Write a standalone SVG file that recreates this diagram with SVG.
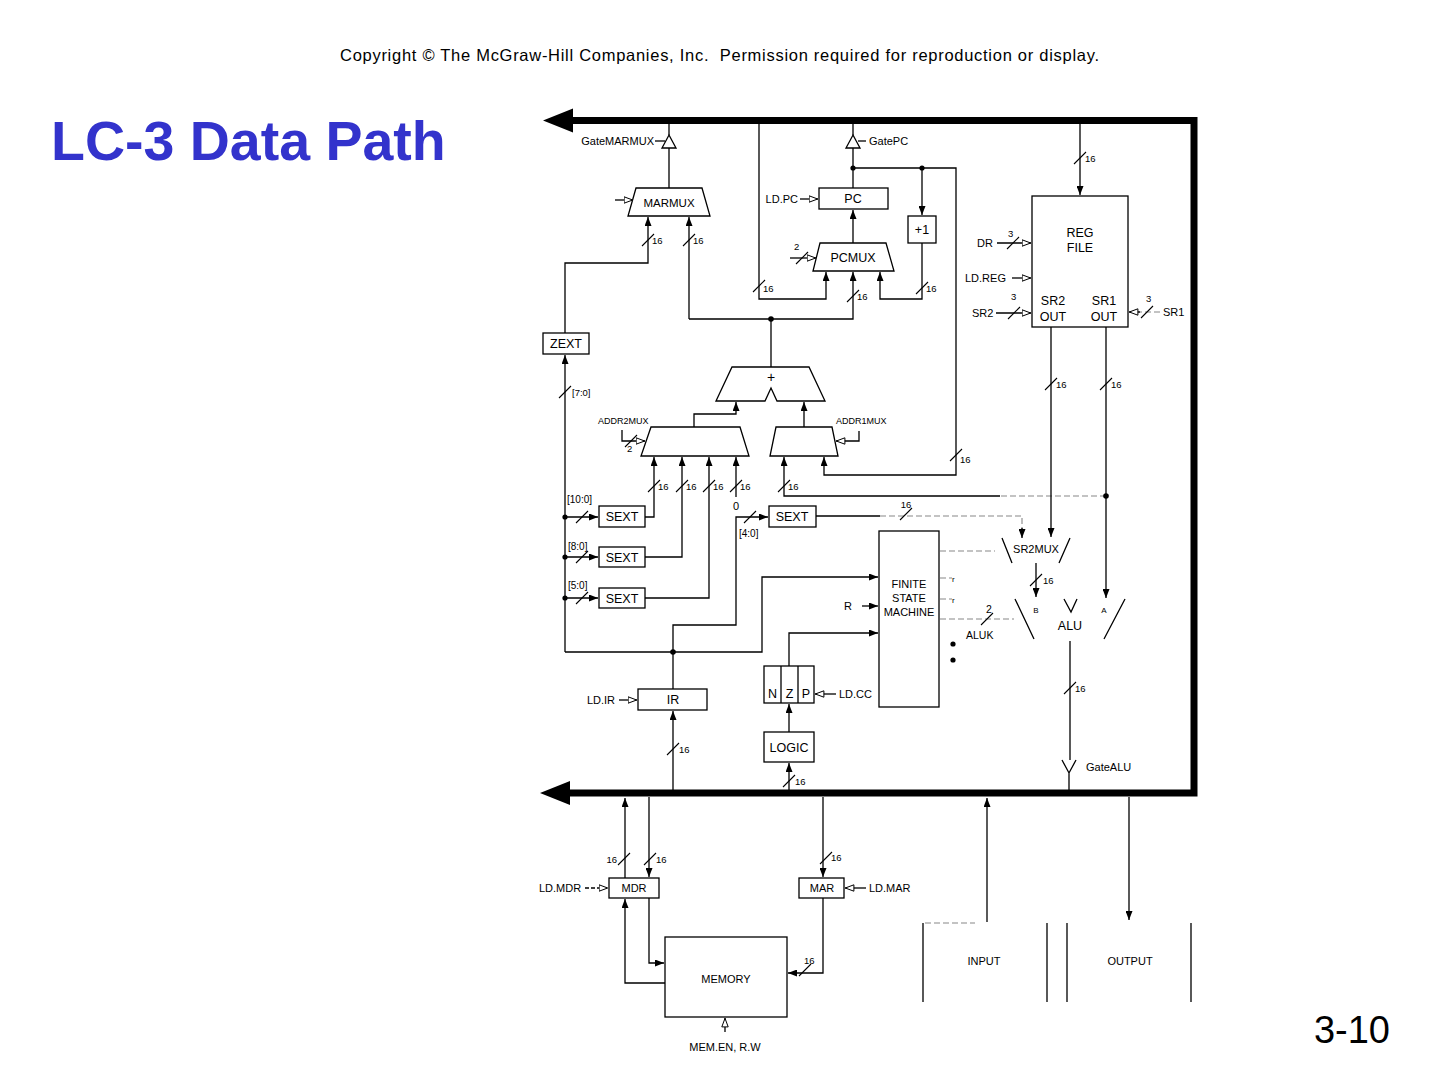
<svg xmlns="http://www.w3.org/2000/svg" xmlns:xlink="http://www.w3.org/1999/xlink" width="1440" height="1080" viewBox="0 0 1440 1080">
<style>
.ln{stroke:#000;stroke-width:1.3;fill:none}
.dl{stroke:#888;stroke-width:1.1;fill:none;stroke-dasharray:6 3}
.bx{fill:#fff;stroke:#000;stroke-width:1.3}
.t{font-family:"Liberation Sans",Arial,Helvetica,sans-serif;font-size:12.5px;fill:#000}
.s{font-size:9.5px}
.l{font-size:11px}
.m{text-anchor:middle}
.e{text-anchor:end}
.dot{fill:#000}
</style>
<defs>
<marker id="a" viewBox="0 0 9 7" refX="9" refY="3.5" markerWidth="9" markerHeight="7" markerUnits="userSpaceOnUse" orient="auto"><path d="M0,0 L9,3.5 L0,7z" fill="#000"/></marker>
<marker id="h" viewBox="0 0 10 8" refX="9.5" refY="4" markerWidth="10" markerHeight="8" markerUnits="userSpaceOnUse" orient="auto"><path d="M0.6,0.8 L9.2,4 L0.6,7.2z" fill="#fff" stroke="#000" stroke-width="1"/></marker>
<path id="sl" d="M-6,6 L6,-6" stroke="#000" stroke-width="1.1"/>
</defs>
<rect width="1440" height="1080" fill="#fff"/>

<text class="t" x="340" y="61" textLength="759" lengthAdjust="spacing" xml:space="preserve" style="font-size:16.5px">Copyright © The McGraw-Hill Companies, Inc.  Permission required for reproduction or display.</text>
<text x="51" y="160" style="font-family:'Liberation Sans',Arial,sans-serif;font-weight:bold;font-size:55.5px;fill:#3333CC">LC-3 Data Path</text>
<text class="t e" x="1390" y="1043" style="font-size:38px">3-10</text>

<g id="bus">
<path d="M570,120.5 L1194,120.5 L1194,793 L568,793" stroke="#000" stroke-width="7" fill="none"/>
<polygon points="543,120.5 573,108.5 573,132.5" fill="#000"/>
<polygon points="540,793 570,781 570,805" fill="#000"/>
</g>

<g id="connectors">
<path class="ln" d="M669,121 V135 M669,148 V188"/>
<path class="ln" d="M853,121 V135 M853,148 V188"/>
<path class="ln" d="M853,168 H956 V475 H824 V457" marker-end="url(#a)"/>
<path class="ln" d="M922,168 V215" marker-end="url(#a)"/>
<path class="ln" d="M922,243 V299 H880 V272" marker-end="url(#a)"/>
<use href="#sl" x="922" y="288"/><text class="t s" x="926" y="292">16</text>
<path class="ln" d="M759,121 V299 H826 V272" marker-end="url(#a)"/>
<use href="#sl" x="759" y="286"/><text class="t s" x="763" y="292">16</text>
<path class="ln" d="M853,243 V210" marker-end="url(#a)"/>
<path class="ln" d="M689,319 H853 V272" marker-end="url(#a)"/>
<path class="ln" d="M689,319 V217" marker-end="url(#a)"/>
<path class="ln" d="M771,319 V367"/>
<use href="#sl" x="853" y="296"/><text class="t s" x="857" y="300">16</text>
<use href="#sl" x="689" y="240"/><text class="t s" x="693" y="244">16</text>
<path class="ln" d="M565,333 V263 H648 V217" marker-end="url(#a)"/>
<use href="#sl" x="648" y="240"/><text class="t s" x="652" y="244">16</text>
<path class="ln" d="M565,652 V355" marker-end="url(#a)"/>
<use href="#sl" x="565" y="392"/><text class="t s" x="572" y="396">[7:0]</text>
<path class="ln" d="M694,427 V414 H736 V402" marker-end="url(#a)"/>
<path class="ln" d="M804,427 V402" marker-end="url(#a)"/>
<path class="ln" d="M645,517 H654 V457" marker-end="url(#a)"/>
<path class="ln" d="M645,557 H682 V457" marker-end="url(#a)"/>
<path class="ln" d="M645,598 H709 V457" marker-end="url(#a)"/>
<path class="ln" d="M736,497 V457" marker-end="url(#a)"/>
<use href="#sl" x="654" y="486"/><text class="t s" x="658" y="490">16</text>
<use href="#sl" x="682" y="486"/><text class="t s" x="686" y="490">16</text>
<use href="#sl" x="709" y="486"/><text class="t s" x="713" y="490">16</text>
<use href="#sl" x="736" y="486"/><text class="t s" x="740" y="490">16</text>
<text class="t m" x="736" y="510" style="font-size:11px">0</text>
<path class="dl" d="M1106,496 H1000"/>
<path class="ln" d="M1000,496 H784 V457" marker-end="url(#a)"/>
<use href="#sl" x="784" y="486"/><text class="t s" x="788" y="490">16</text>
<use href="#sl" x="956" y="455"/><text class="t s" x="960" y="463">16</text>
<path class="ln" d="M565,517 H598" marker-end="url(#a)"/>
<path class="ln" d="M565,557 H598" marker-end="url(#a)"/>
<path class="ln" d="M565,598 H598" marker-end="url(#a)"/>
<use href="#sl" x="582" y="517"/><use href="#sl" x="582" y="557"/><use href="#sl" x="582" y="598"/>
<circle class="dot" cx="565" cy="517" r="2.6"/>
<circle class="dot" cx="565" cy="557" r="2.6"/>
<circle class="dot" cx="565" cy="598" r="2.6"/>
<text class="t s" x="567" y="503" style="font-size:10px">[10:0]</text>
<text class="t s" x="568" y="550" style="font-size:10px">[8:0]</text>
<text class="t s" x="568" y="589" style="font-size:10px">[5:0]</text>
<path class="ln" d="M673,652 V625 H736 V517 H768" marker-end="url(#a)"/>
<use href="#sl" x="750" y="517"/>
<text class="t s" x="739" y="537" style="font-size:10px">[4:0]</text>
<path class="ln" d="M816,516 H880"/>
<path class="dl" d="M880,516 H1022 V530"/>
<path class="ln" d="M1022,528 V538" marker-end="url(#a)"/>
<use href="#sl" x="906" y="514"/><text class="t s m" x="906" y="508">16</text>
<path class="ln" d="M565,652 H762 V577 H878" marker-end="url(#a)"/>
<circle class="dot" cx="673" cy="652" r="2.8"/>
<path class="ln" d="M673,689 V652"/>
<path class="ln" d="M862,606 H878" marker-end="url(#a)"/>
<text class="t l" x="844" y="610">R</text>
<path class="ln" d="M789,666 V633 H878" marker-end="url(#a)"/>
<path class="dl" d="M940,551 H995"/>
<path class="dl" d="M940,578 H952"/>
<path class="dl" d="M940,599 H952"/>
<path class="dl" d="M940,619 H1014"/>
<text class="t s" x="952" y="582" style="font-size:8px">r</text>
<text class="t s" x="952" y="603" style="font-size:8px">r</text>
<circle class="dot" cx="953" cy="644" r="2.6"/>
<circle class="dot" cx="953" cy="660" r="2.6"/>
<text class="t s" x="986" y="613" style="font-size:10.5px">2</text>
<use href="#sl" x="987" y="619"/>
<text class="t s" x="966" y="639" style="font-size:10.5px">ALUK</text>
<path class="ln" d="M1080,121 V195" marker-end="url(#a)"/>
<use href="#sl" x="1080" y="158"/><text class="t s" x="1085" y="162">16</text>
<path class="ln" d="M997,243 H1031" marker-end="url(#h)"/>
<use href="#sl" x="1013" y="243"/><text class="t s" x="1008" y="237">3</text>
<text class="t l" x="977" y="247">DR</text>
<path class="ln" d="M1012,278 H1031" marker-end="url(#h)"/>
<text class="t l" x="965" y="282">LD.REG</text>
<path class="ln" d="M996,313 H1031" marker-end="url(#h)"/>
<use href="#sl" x="1014" y="313"/><text class="t s" x="1011" y="300">3</text>
<text class="t l" x="972" y="317">SR2</text>
<path class="dl" d="M1160,312 H1138"/>
<path class="ln" d="M1140,312 H1129" marker-end="url(#h)"/>
<use href="#sl" x="1147" y="312"/><text class="t s" x="1146" y="302">3</text>
<text class="t l" x="1163" y="316">SR1</text>
<path class="ln" d="M1051,327 V537" marker-end="url(#a)"/>
<use href="#sl" x="1051" y="384"/><text class="t s" x="1056" y="388">16</text>
<path class="ln" d="M1106,327 V598" marker-end="url(#a)"/>
<use href="#sl" x="1106" y="384"/><text class="t s" x="1111" y="388">16</text>
<circle class="dot" cx="1106" cy="496" r="2.8"/>
<path class="ln" d="M1036,563 V597" marker-end="url(#a)"/>
<use href="#sl" x="1036" y="580"/><text class="t s" x="1043" y="584">16</text>
<path class="ln" d="M1070,641 V760"/>
<use href="#sl" x="1070" y="688"/><text class="t s" x="1075" y="692">16</text>
<path class="ln" d="M1062,760 L1069,773 L1076,760 M1069,773 V793"/>
<text class="t l" x="1086" y="771">GateALU</text>
<path class="ln" d="M673,793 V711" marker-end="url(#a)"/>
<use href="#sl" x="673" y="749"/><text class="t s" x="679" y="753">16</text>
<path class="ln" d="M619,700 H637" marker-end="url(#h)"/>
<text class="t l e" x="615" y="704">LD.IR</text>
<path class="ln" d="M789,732 V704" marker-end="url(#a)"/>
<path class="ln" d="M789,793 V763" marker-end="url(#a)"/>
<use href="#sl" x="789" y="781"/><text class="t s" x="795" y="785">16</text>
<path class="ln" d="M836,694 H815" marker-end="url(#h)"/>
<text class="t l" x="839" y="698">LD.CC</text>
<path class="ln" d="M625,878 V798" marker-end="url(#a)"/>
<path class="ln" d="M649,797 V877" marker-end="url(#a)"/>
<use href="#sl" x="624" y="859"/><text class="t s e" x="617" y="863">16</text>
<use href="#sl" x="650" y="859"/><text class="t s" x="656" y="863">16</text>
<path class="ln" d="M649,898 V963 H664" marker-end="url(#a)"/>
<path class="ln" d="M665,983 H625 V899" marker-end="url(#a)"/>
<path class="ln" d="M585,888 H608" style="stroke-dasharray:4 2" marker-end="url(#h)"/>
<text class="t l" x="539" y="892">LD.MDR</text>
<path class="ln" d="M725,1032 V1018" marker-end="url(#h)"/>
<text class="t l m" x="725" y="1051">MEM.EN, R.W</text>
<path class="ln" d="M823,797 V877" marker-end="url(#a)"/>
<use href="#sl" x="826" y="858"/><text class="t s" x="831" y="861">16</text>
<path class="ln" d="M823,898 V973 H788" marker-end="url(#a)"/>
<use href="#sl" x="805" y="970"/><text class="t s" x="804" y="964">16</text>
<path class="ln" d="M866,888 H845" marker-end="url(#h)"/>
<text class="t l" x="869" y="892">LD.MAR</text>
<path class="ln" d="M987,922 V798" marker-end="url(#a)"/>
<path class="ln" d="M1129,797 V920" marker-end="url(#a)"/>
<circle class="dot" cx="853" cy="168" r="2.6"/>
<circle class="dot" cx="922" cy="168" r="2.6"/>
<circle class="dot" cx="771" cy="319" r="2.8"/>
</g>

<g id="gatemarmux">
<polygon class="bx" points="669,135 676,148 662,148"/>
<path class="ln" d="M655,141 H665"/>
<text class="t l e" x="654" y="145">GateMARMUX</text>
</g>
<g id="gatepc">
<polygon class="bx" points="853,135 860,148 846,148"/>
<path class="ln" d="M858,141 H866"/>
<text class="t l" x="869" y="145">GatePC</text>
</g>
<g id="marmux">
<polygon class="bx" points="636,188 702,188 710,216 628,216"/>
<text class="t m" x="669" y="207" style="font-size:11.5px">MARMUX</text>
<path class="ln" d="M615,200 H633" marker-end="url(#h)"/>
</g>
<g id="pc">
<rect class="bx" x="819" y="188" width="69" height="21"/>
<text class="t m" x="853" y="203">PC</text>
<path class="ln" d="M800,199 H818" marker-end="url(#h)"/>
<text class="t l e" x="798" y="203">LD.PC</text>
</g>
<g id="plus1">
<rect class="bx" x="908" y="216" width="28" height="27"/>
<text class="t m" x="922" y="234">+1</text>
</g>
<g id="pcmux">
<polygon class="bx" points="820,243 886,243 894,271 813,271"/>
<text class="t m" x="853" y="262">PCMUX</text>
<path class="ln" d="M790,258 H816" marker-end="url(#h)"/>
<use href="#sl" x="802" y="258"/>
<text class="t s" x="794" y="250">2</text>
</g>
<g id="zext">
<rect class="bx" x="543" y="333" width="46" height="21"/>
<text class="t m" x="566" y="348">ZEXT</text>
</g>
<g id="adder">
<polygon class="bx" points="732,367 809,367 825,401 777,401 771,388 765,401 716,401"/>
<text class="t m" x="771" y="382" style="font-size:14px">+</text>
</g>
<g id="addr2mux">
<polygon class="bx" points="651,427 740,427 749,456 641,456"/>
<text class="t s" x="598" y="424" style="font-size:9px">ADDR2MUX</text>
<path class="ln" d="M622,430 V441 H645" marker-end="url(#h)"/>
<use href="#sl" x="631" y="441"/>
<text class="t s" x="627" y="452">2</text>
</g>
<g id="addr1mux">
<polygon class="bx" points="776,427 832,427 838,456 770,456"/>
<text class="t s" x="836" y="424" style="font-size:9px">ADDR1MUX</text>
<path class="ln" d="M859,431 V441 H836" marker-end="url(#h)"/>
</g>
<g id="sext1"><rect class="bx" x="599" y="506" width="46" height="21"/><text class="t m" x="622" y="521">SEXT</text></g>
<g id="sext2"><rect class="bx" x="599" y="547" width="46" height="20"/><text class="t m" x="622" y="562">SEXT</text></g>
<g id="sext3"><rect class="bx" x="599" y="588" width="46" height="20"/><text class="t m" x="622" y="603">SEXT</text></g>
<g id="sext4"><rect class="bx" x="769" y="506" width="47" height="21"/><text class="t m" x="792" y="521">SEXT</text></g>
<g id="fsm">
<rect class="bx" x="879" y="531" width="60" height="176"/>
<text class="t l m" x="909" y="588">FINITE</text>
<text class="t l m" x="909" y="602">STATE</text>
<text class="t l m" x="909" y="616">MACHINE</text>
</g>
<g id="regfile">
<rect class="bx" x="1032" y="196" width="96" height="131"/>
<text class="t m" x="1080" y="237">REG</text>
<text class="t m" x="1080" y="252">FILE</text>
<text class="t m" x="1053" y="305">SR2</text>
<text class="t m" x="1053" y="321">OUT</text>
<text class="t m" x="1104" y="305">SR1</text>
<text class="t m" x="1104" y="321">OUT</text>
</g>
<g id="sr2mux">
<path class="ln" d="M1002,538 L1012,563 M1070,538 L1059,563"/>
<text class="t l m" x="1036" y="553">SR2MUX</text>
</g>
<g id="alu">
<path class="ln" d="M1015,599 L1034,639 M1064,599 L1071,612 L1077,599 M1125,599 L1104,639"/>
<text class="t s m" x="1036" y="613" style="font-size:8px">B</text>
<text class="t s m" x="1104" y="613" style="font-size:8px">A</text>
<text class="t m" x="1070" y="630">ALU</text>
</g>
<g id="ir">
<rect class="bx" x="638" y="689" width="69" height="21"/>
<text class="t m" x="673" y="704">IR</text>
</g>
<g id="nzp">
<rect class="bx" x="764" y="666" width="50" height="37"/>
<path class="ln" d="M781,666 V703 M798,666 V703"/>
<text class="t m" x="772.5" y="698">N</text>
<text class="t m" x="789.5" y="698">Z</text>
<text class="t m" x="806" y="698">P</text>
</g>
<g id="logic">
<rect class="bx" x="764" y="732" width="50" height="30"/>
<text class="t m" x="789" y="752">LOGIC</text>
</g>
<g id="mdr">
<rect class="bx" x="609" y="878" width="50" height="20"/>
<text class="t l m" x="634" y="892">MDR</text>
</g>
<g id="mar">
<rect class="bx" x="799" y="878" width="45" height="20"/>
<text class="t l m" x="822" y="892">MAR</text>
</g>
<g id="memory">
<rect class="bx" x="665" y="937" width="122" height="80"/>
<text class="t l m" x="726" y="983">MEMORY</text>
</g>
<g id="input">
<path class="ln" d="M923,923 V1002 M1047,923 V1002"/>
<path class="dl" d="M925,923 H975"/>
<text class="t l m" x="984" y="965">INPUT</text>
</g>
<g id="output">
<path class="ln" d="M1067,923 V1002 M1191,923 V1002"/>
<text class="t l m" x="1130" y="965">OUTPUT</text>
</g>
</svg>
